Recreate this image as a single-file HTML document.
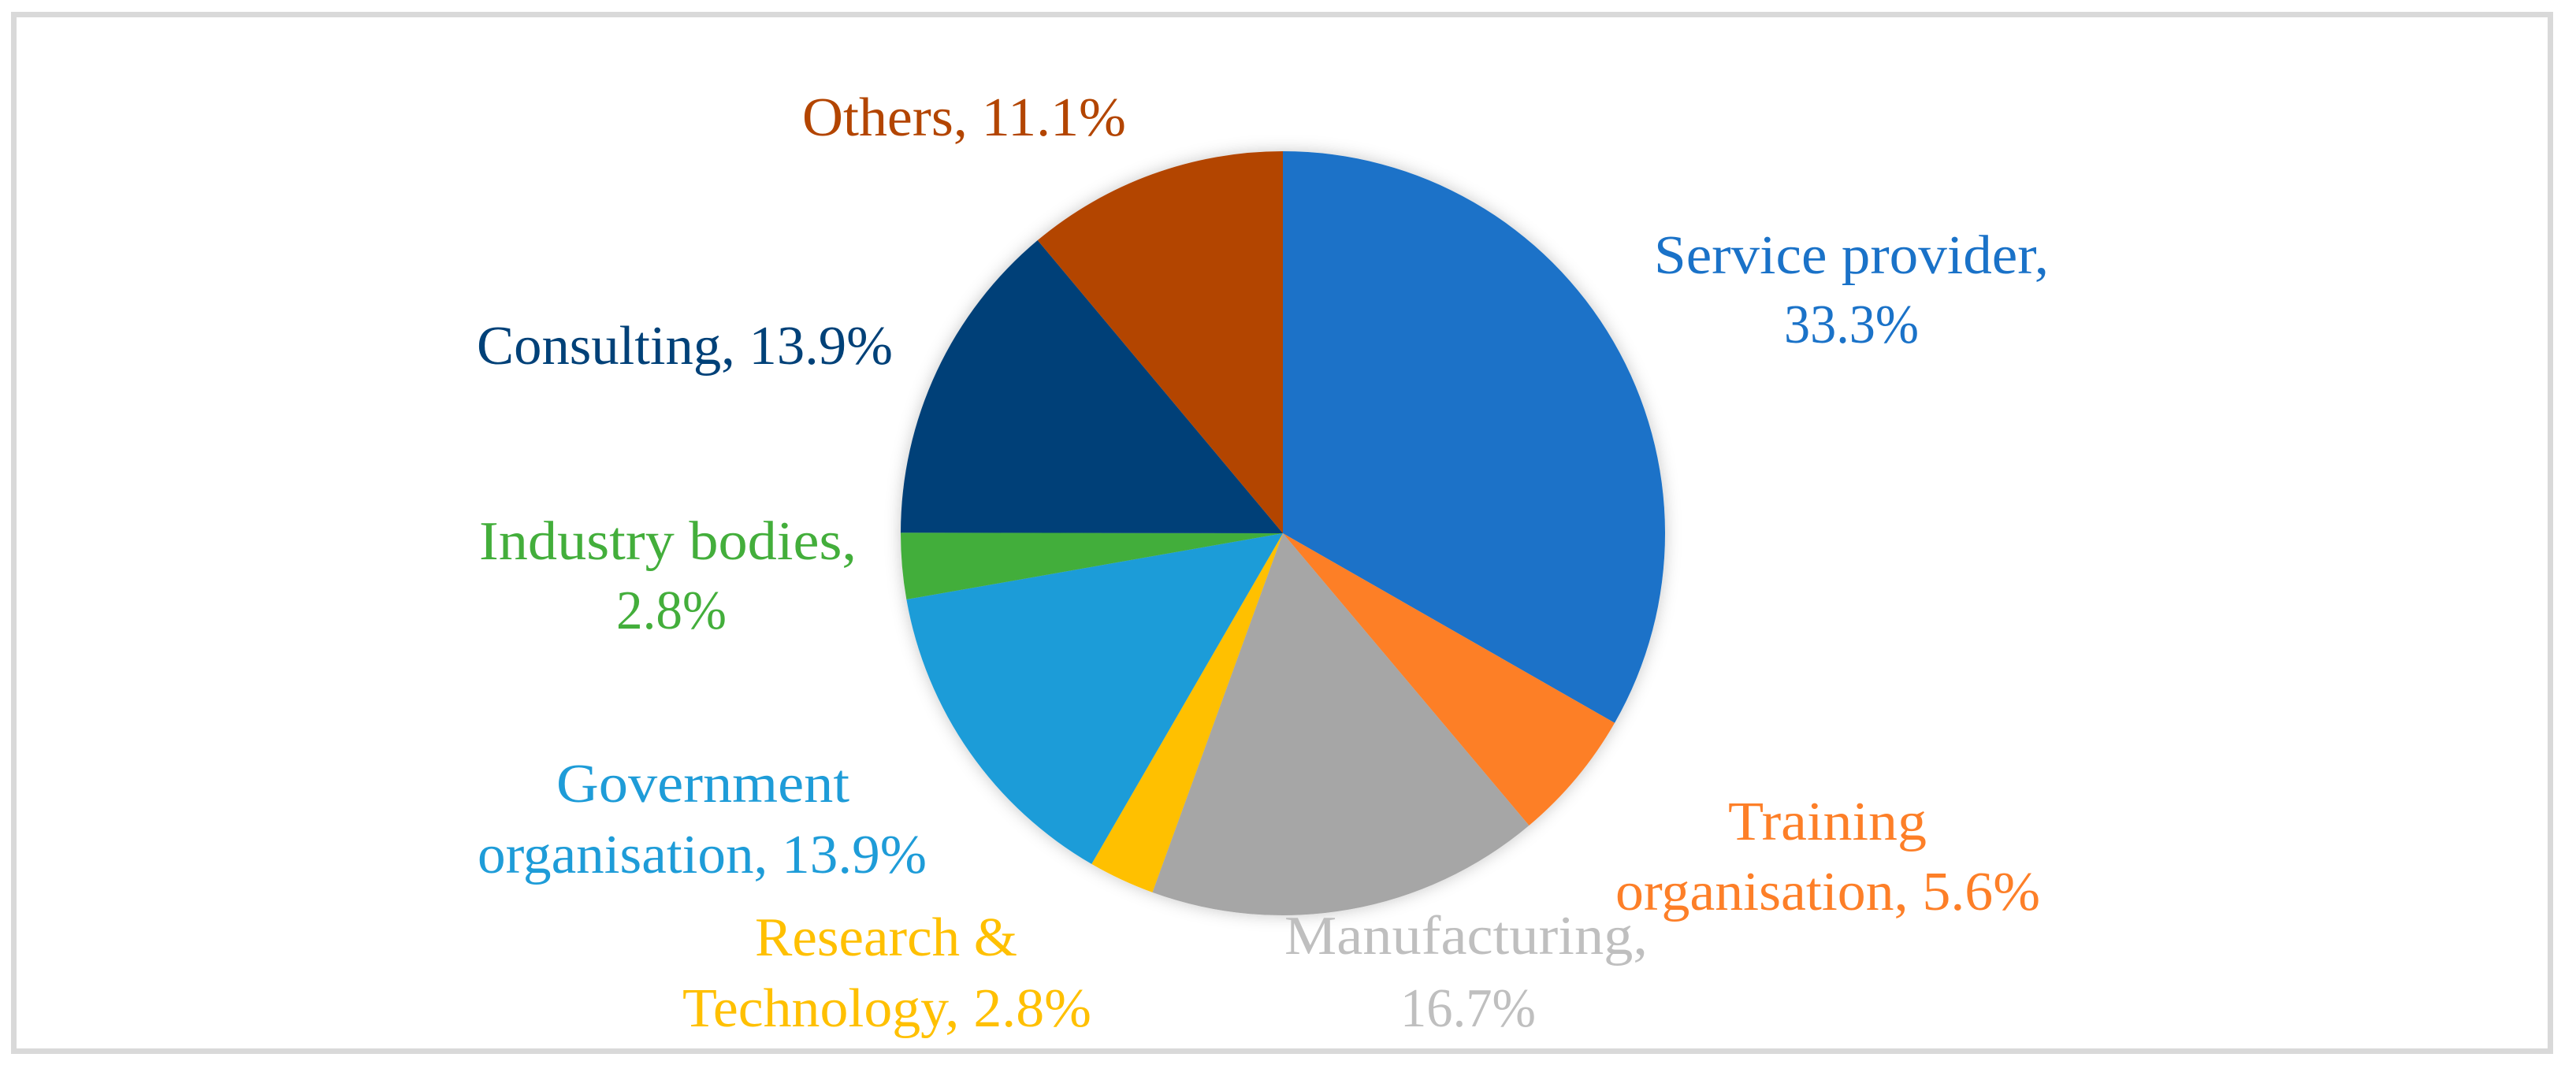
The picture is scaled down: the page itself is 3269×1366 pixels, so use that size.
<!DOCTYPE html>
<html>
<head>
<meta charset="utf-8">
<style>
  html,body{margin:0;padding:0;background:#fff;}
  body{width:3269px;height:1361px;overflow:hidden;}
  svg text{font-family:"Liberation Serif",serif;font-size:70px;}
</style>
</head>
<body>
<svg id="chart" width="3269" height="1361" viewBox="0 0 3269 1361" xmlns="http://www.w3.org/2000/svg">
  <defs>
    <filter id="shadow" x="-20%" y="-20%" width="140%" height="140%">
      <feDropShadow dx="0" dy="0" stdDeviation="10" flood-color="#000" flood-opacity="0.22"/>
    </filter>
  </defs>
  <rect x="17.5" y="18.5" width="3219" height="1316" fill="#fff" stroke="#d9d9d9" stroke-width="7"/>
  <g id="slices" filter="url(#shadow)"></g>

  <g>
    <text x="1018" y="172" fill="#b34500" textLength="411" lengthAdjust="spacingAndGlyphs">Others, 11.1%</text>
    <text x="2099" y="347" fill="#1a72c8" textLength="501" lengthAdjust="spacingAndGlyphs">Service provider,</text>
    <text x="2264" y="435" fill="#1a72c8" textLength="171" lengthAdjust="spacingAndGlyphs">33.3%</text>
    <text x="605" y="462" fill="#004178" textLength="528" lengthAdjust="spacingAndGlyphs">Consulting, 13.9%</text>
    <text x="608" y="710" fill="#43ae3b" textLength="479" lengthAdjust="spacingAndGlyphs">Industry bodies,</text>
    <text x="782" y="798" fill="#43ae3b" textLength="140" lengthAdjust="spacingAndGlyphs">2.8%</text>
    <text x="706" y="1018" fill="#1e9cd8" textLength="372" lengthAdjust="spacingAndGlyphs">Government</text>
    <text x="606" y="1108" fill="#1e9cd8" textLength="570" lengthAdjust="spacingAndGlyphs">organisation, 13.9%</text>
    <text x="2193" y="1066" fill="#fd7f28" textLength="252" lengthAdjust="spacingAndGlyphs">Training</text>
    <text x="2050" y="1155" fill="#fd7f28" textLength="539" lengthAdjust="spacingAndGlyphs">organisation, 5.6%</text>
    <text x="958" y="1213" fill="#ffc000" textLength="333" lengthAdjust="spacingAndGlyphs">Research &amp;</text>
    <text x="866" y="1303" fill="#ffc000" textLength="519" lengthAdjust="spacingAndGlyphs">Technology, 2.8%</text>
    <text x="1630" y="1211" fill="#bfbfbf" textLength="461" lengthAdjust="spacingAndGlyphs">Manufacturing,</text>
    <text x="1777" y="1303" fill="#bfbfbf" textLength="172" lengthAdjust="spacingAndGlyphs">16.7%</text>
  </g>
</svg>
<script>
const categories = ["Service provider","Training organisation","Manufacturing","Research & Technology","Government organisation","Industry bodies","Consulting","Others"];
const values = [33.3, 5.6, 16.7, 2.8, 13.9, 2.8, 13.9, 11.1];
const colors = ["#1a72c8","#fd7f28","#a6a6a6","#ffc000","#1e9cd8","#43ae3b","#004178","#b34500"];

const cx = 1628, cy = 677, r = 485;
const total = values.reduce((a,b)=>a+b,0);
function angleOf(v){ return v / total * Math.PI * 2; }
function pt(a){ return [cx + r*Math.sin(a), cy - r*Math.cos(a)]; }

const g = document.getElementById('slices');
let start = 0;
values.forEach((v,i)=>{
  const end = start + angleOf(v);
  const p0 = pt(start), p1 = pt(end);
  const large = (end-start) > Math.PI ? 1 : 0;
  const path = document.createElementNS('http://www.w3.org/2000/svg','path');
  path.setAttribute('d', `M${cx},${cy} L${p0[0]},${p0[1]} A${r},${r} 0 ${large} 1 ${p1[0]},${p1[1]} Z`);
  path.setAttribute('fill', colors[i]);
  
  
  g.appendChild(path);
  start = end;
});
</script>
</body>
</html>
